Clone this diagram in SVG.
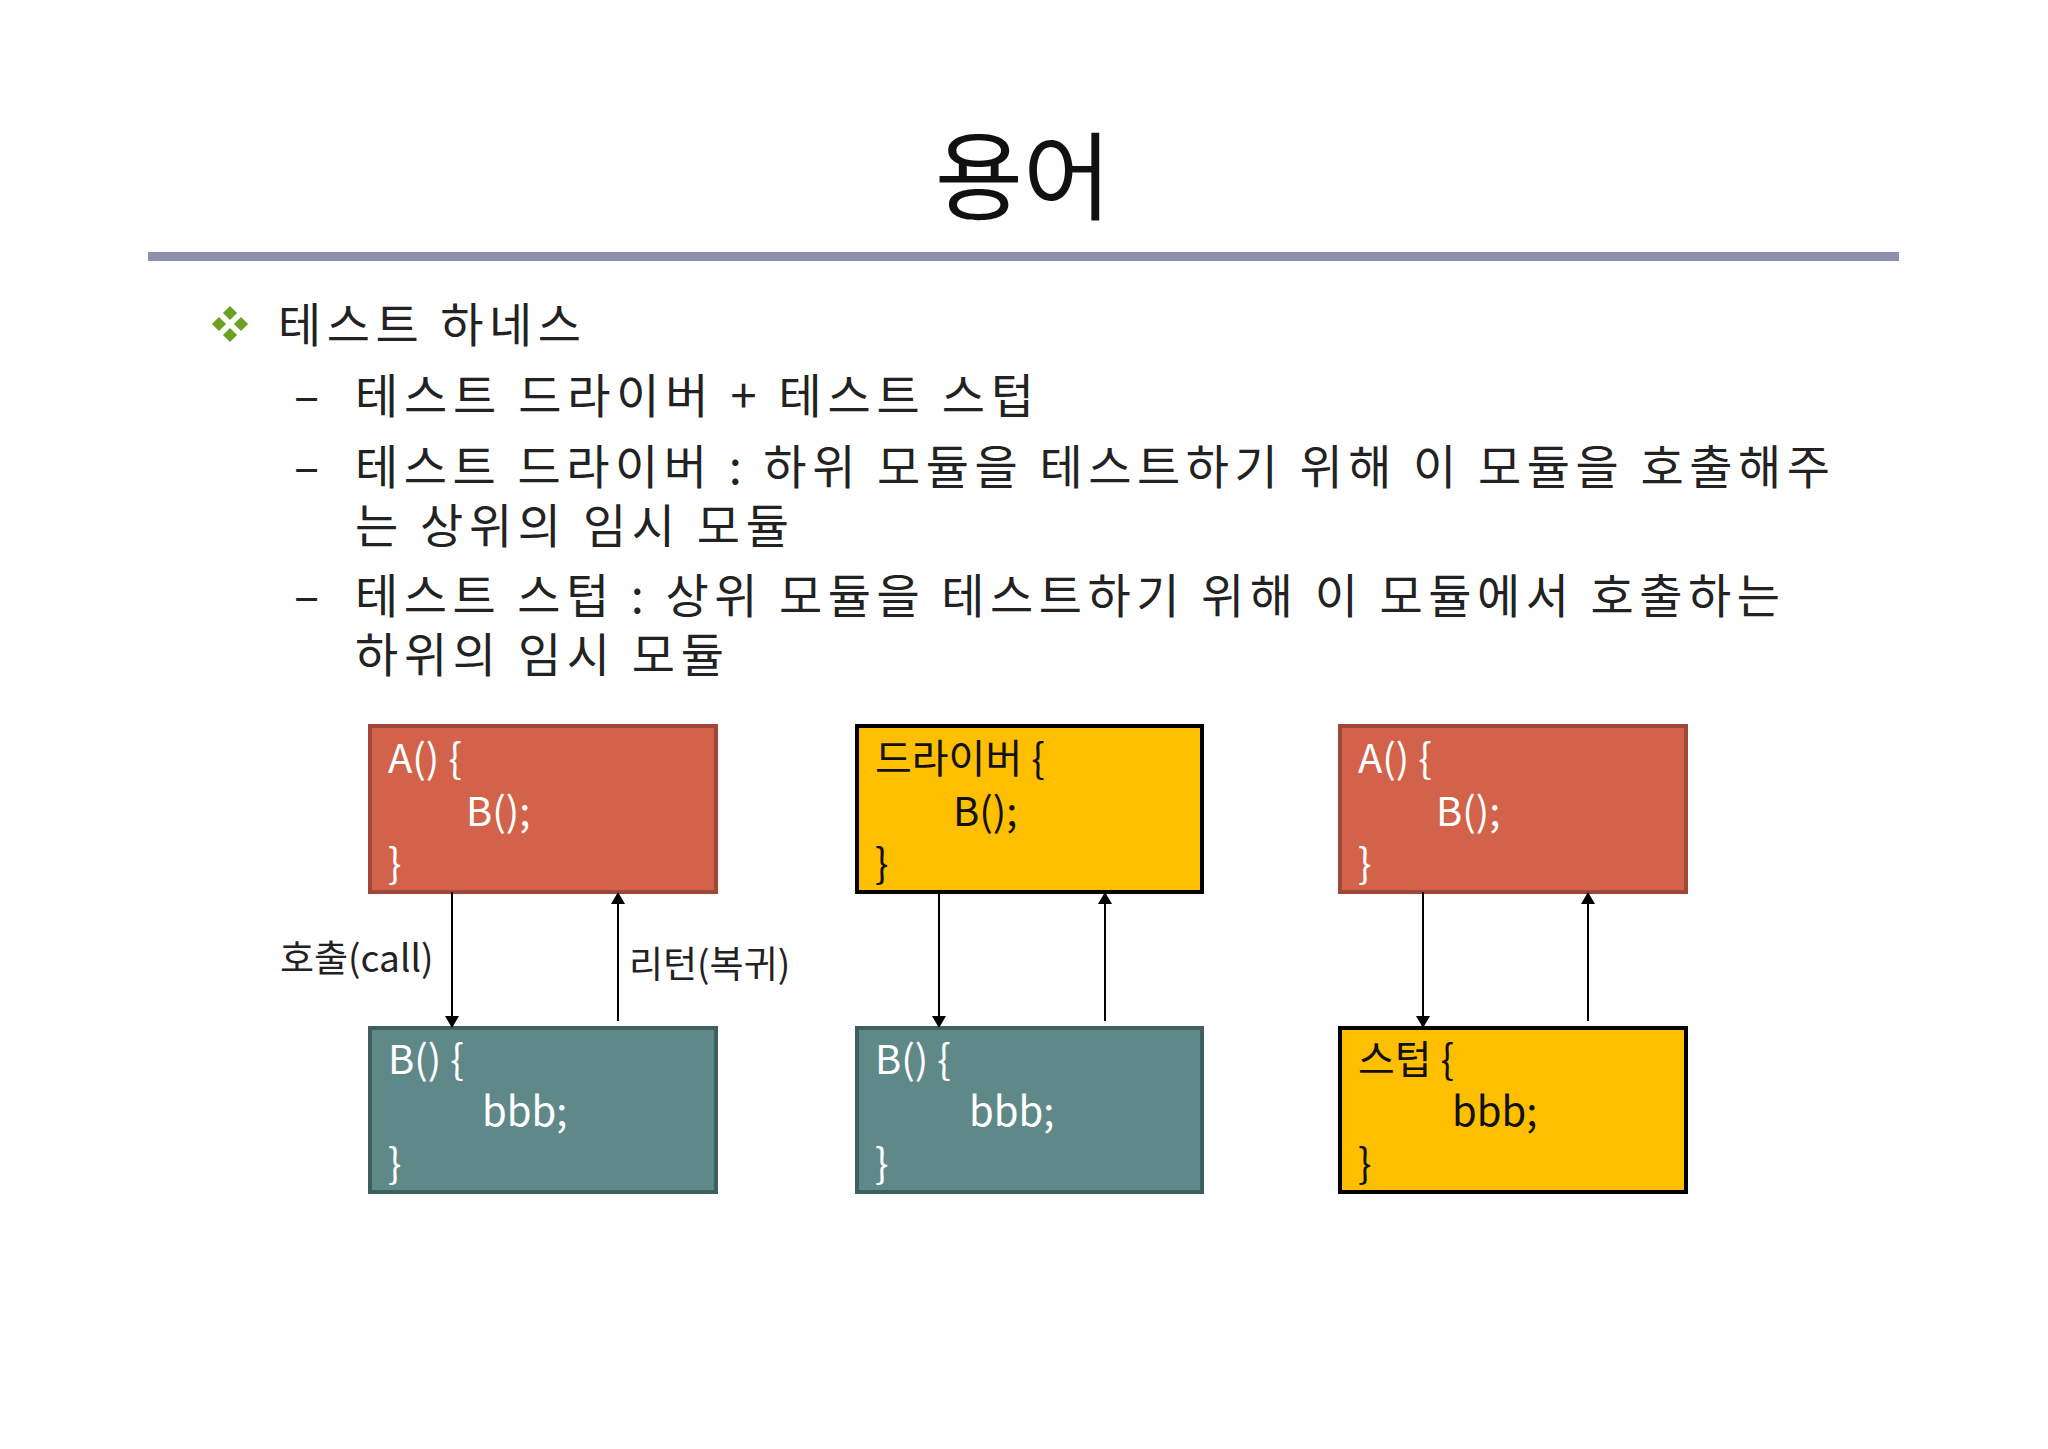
<svg xmlns="http://www.w3.org/2000/svg" width="2048" height="1449" viewBox="0 0 2048 1449">
<defs>
<style>
text{font-family:"Noto Sans CJK KR","Noto Sans",sans-serif;}
.t{font-size:47px;fill:#222;}
.c{font-size:40px;}
.w{fill:#fff;}
.k{fill:#111;}
.lbl{font-size:37px;fill:#222;}
.red{fill:#d2634a;stroke:#a0473a;stroke-width:4;}
.teal{fill:#5f8888;stroke:#3f5f5f;stroke-width:4;}
.yel{fill:#fdbf00;stroke:#000;stroke-width:4;}
.ln{stroke:#000;stroke-width:2;fill:none;marker-end:url(#ah);}
</style>
<marker id="ah" markerWidth="12" markerHeight="14" refX="11" refY="7" orient="auto" markerUnits="userSpaceOnUse"><path d="M0,0 L12,7 L0,14 Z" fill="#000"/></marker>
</defs>
<rect width="2048" height="1449" fill="#fefefe"/>
<text x="1023" y="212" font-size="96" text-anchor="middle" fill="#111">용어</text>
<rect x="148" y="252" width="1751" height="9" fill="#8c8fae"/>
<g fill="#6aa121">
<rect x="225" y="308" width="10" height="10" transform="rotate(45 230 313)"/>
<rect x="225" y="330" width="10" height="10" transform="rotate(45 230 335)"/>
<rect x="214" y="319" width="10" height="10" transform="rotate(45 219 324)"/>
<rect x="236" y="319" width="10" height="10" transform="rotate(45 241 324)"/>
</g>
<text x="278" y="342" class="t" textLength="303" lengthAdjust="spacing">테스트 하네스</text>
<text x="294" y="413" class="t">–</text>
<text x="355" y="413" class="t" textLength="679" lengthAdjust="spacing">테스트 드라이버 + 테스트 스텁</text>
<text x="294" y="484" class="t">–</text>
<text x="355" y="484" class="t" textLength="1475" lengthAdjust="spacing">테스트 드라이버 : 하위 모듈을 테스트하기 위해 이 모듈을 호출해주</text>
<text x="355" y="543" class="t" textLength="434" lengthAdjust="spacing">는 상위의 임시 모듈</text>
<text x="294" y="613" class="t">–</text>
<text x="355" y="613" class="t" textLength="1425" lengthAdjust="spacing">테스트 스텁 : 상위 모듈을 테스트하기 위해 이 모듈에서 호출하는</text>
<text x="355" y="672" class="t" textLength="369" lengthAdjust="spacing">하위의 임시 모듈</text>
<g id="a1"><rect x="370" y="726" width="346" height="166" class="red"/>
<text class="c w" x="388" y="773">A() {</text><text class="c w" x="466" y="826">B();</text><text class="c w" x="388" y="878">}</text></g>
<g id="b1"><rect x="370" y="1028" width="346" height="164" class="teal"/>
<text class="c w" x="388" y="1074">B() {</text><text class="c w" x="482" y="1126">bbb;</text><text class="c w" x="388" y="1178">}</text></g>
<g id="drv"><rect x="857" y="726" width="345" height="166" class="yel"/>
<text class="c k" x="875" y="773">드라이버 {</text><text class="c k" x="953" y="826">B();</text><text class="c k" x="875" y="878">}</text></g>
<g id="b2"><rect x="857" y="1028" width="345" height="164" class="teal"/>
<text class="c w" x="875" y="1074">B() {</text><text class="c w" x="969" y="1126">bbb;</text><text class="c w" x="875" y="1178">}</text></g>
<g id="a3"><rect x="1340" y="726" width="346" height="166" class="red"/>
<text class="c w" x="1358" y="773">A() {</text><text class="c w" x="1436" y="826">B();</text><text class="c w" x="1358" y="878">}</text></g>
<g id="stub"><rect x="1340" y="1028" width="346" height="164" class="yel"/>
<text class="c k" x="1358" y="1074">스텁 {</text><text class="c k" x="1452" y="1126">bbb;</text><text class="c k" x="1358" y="1178">}</text></g>
<g id="connectors">
<line x1="452" y1="892" x2="452" y2="1027" class="ln"/>
<line x1="618" y1="1021" x2="618" y2="893" class="ln"/>
<line x1="939" y1="892" x2="939" y2="1027" class="ln"/>
<line x1="1105" y1="1021" x2="1105" y2="893" class="ln"/>
<line x1="1423" y1="892" x2="1423" y2="1027" class="ln"/>
<line x1="1588" y1="1021" x2="1588" y2="893" class="ln"/>
</g>
<text class="lbl" x="280" y="972">호출(call)</text>
<text class="lbl" x="629" y="978">리턴(복귀)</text>
</svg>
